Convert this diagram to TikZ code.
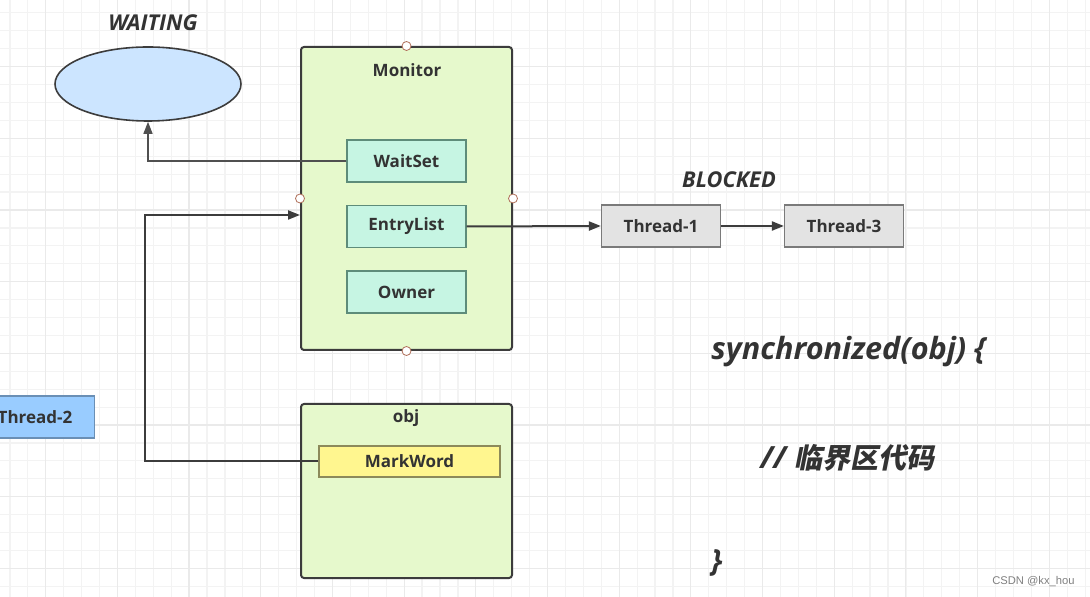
\documentclass[tikz,border=0pt]{standalone}
\usepackage{fontspec}
\setmainfont{Open Sans}
\newfontfamily\cjk[FakeSlant=0.2]{Noto Sans CJK SC}
\newfontfamily\wmfont{Liberation Sans}
\usetikzlibrary{arrows.meta,shapes.geometric,positioning}

\definecolor{textgray}{HTML}{333333}
\definecolor{boxborder}{HTML}{3C3C3C}
\definecolor{monitorgreen}{HTML}{E6F9CC}
\definecolor{fieldmint}{HTML}{C6F5E3}
\definecolor{fieldborder}{HTML}{5E8C7A}
\definecolor{threadgray}{HTML}{E3E3E3}
\definecolor{threadborder}{HTML}{7A7A7A}
\definecolor{waitblue}{HTML}{CCE5FF}
\definecolor{t2blue}{HTML}{99CCFF}
\definecolor{t2border}{HTML}{6A8FB5}
\definecolor{markyellow}{HTML}{FFF68F}
\definecolor{markborder}{HTML}{8C8A5A}
\definecolor{handlered}{HTML}{B0705A}
\definecolor{gridminor}{HTML}{F3F3F3}
\definecolor{gridmajor}{HTML}{EAEAEA}

\begin{document}
\begin{tikzpicture}[x=0.5pt,y=-0.5pt,>={Triangle[length=6pt,width=4.5pt]}]
  \tikzstyle{outer}=[rectangle,rounded corners=1.5pt,line width=1pt,draw=boxborder,fill=monitorgreen,minimum width=105.5pt]
  \tikzstyle{field}=[rectangle,line width=0.6pt,draw=fieldborder,fill=fieldmint,minimum width=59.5pt,minimum height=21pt,font=\fontsize{8.5}{10}\selectfont\bfseries,text=textgray]
  \tikzstyle{thread}=[field,draw=threadborder,fill=threadgray]
  \tikzstyle{title}=[font=\fontsize{8.5}{10}\selectfont\bfseries,text=textgray]
  \tikzstyle{state}=[font=\fontsize{10.9}{12}\selectfont\bfseries\itshape,text=textgray]
  \tikzstyle{code}=[anchor=west,inner sep=0pt,font=\fontsize{15.3}{17}\selectfont\bfseries\itshape,text=textgray]
  \tikzstyle{handle}=[circle,draw=handlered,fill=white,line width=0.4pt,minimum size=4.5pt,inner sep=0pt]
  \tikzstyle{link}=[line width=1pt,draw=boxborder]

  \clip (0,0) rectangle (1090,597);
  \fill[white] (0,0) rectangle (1090,597);
  % grid
  \foreach \i in {0,...,60}
    \draw[gridminor,line width=0.6pt] (9.9+17.92*\i,0) -- (9.9+17.92*\i,597);
  \foreach \i in {0,...,33}
    \draw[gridminor,line width=0.6pt] (0,12.9+17.92*\i) -- (1090,12.9+17.92*\i);
  \foreach \i in {0,...,15}
    \draw[gridmajor,line width=0.6pt] (45.7+71.68*\i,0) -- (45.7+71.68*\i,597);
  \foreach \i in {0,...,8}
    \draw[gridmajor,line width=0.6pt] (0,66.7+71.68*\i) -- (1090,66.7+71.68*\i);

  % states
  \node [state] (waitlabel) at (153,23) {WAITING};
  \node [ellipse,draw=boxborder,line width=0.8pt,fill=waitblue,minimum width=93pt,minimum height=37pt] (waiting) at (148,84) {};
  \node [state] (blockedlabel) at (729,180) {BLOCKED};

  % monitor
  \node [outer,minimum height=151.5pt] (monitor) at (406.5,198.5) {};
  \node [title] (monitortitle) at (407,70) {Monitor};
  \node [field] (waitset) at (406.5,161) {WaitSet};
  \node [field] (entrylist) at (406.5,226.5) {EntryList};
  \node [field] (owner) at (406.5,292) {Owner};
  \node [handle] (htop) at (monitor.north) {};
  \node [handle] (hbot) at (monitor.south) {};
  \node [handle] (hleft) at (monitor.west) {};
  \node [handle] (hright) at (monitor.east) {};

  % threads
  \node [thread] (t1) at (661,226) {Thread-1};
  \node [thread] (t3) at (844,226) {Thread-3};
  \node [thread,draw=t2border,fill=t2blue] (t2) at (35,417) {Thread-2};

  % object
  \node [outer,minimum height=87pt] (obj) at (406.5,491) {};
  \node [title] (objtitle) at (406,418) {obj};
  \node [field,draw=markborder,fill=markyellow,minimum width=90.5pt,minimum height=15.5pt] (markword) at (409.5,461.5) {MarkWord};

  % code
  \node [code] (syncline) at (711,352) {synchronized(obj) \{};
  \node [code] (critical) at (760,458) {// {\cjk\bfseries\fontsize{14}{16}\selectfont 临界区代码}};
  \node [code] (closing) at (711,563) {\}};
  \node [anchor=east,inner sep=0pt,font=\wmfont\fontsize{5.6}{7}\selectfont,text=black!50] (watermark) at (1075,582) {CSDN @kx\_hou};

  % connectors
  \draw [->,line width=0.6pt,draw=boxborder!90] (waitset.west) -| (waiting.south);
  \draw [->,link] (markword.west) -- ++(-173,0) |- ([yshift=-8.25pt]monitor.west);
  \draw [->,link] (entrylist.east) -- (t1.west);
  \draw [->,link] (t1.east) -- (t3.west);
\end{tikzpicture}
\end{document}
